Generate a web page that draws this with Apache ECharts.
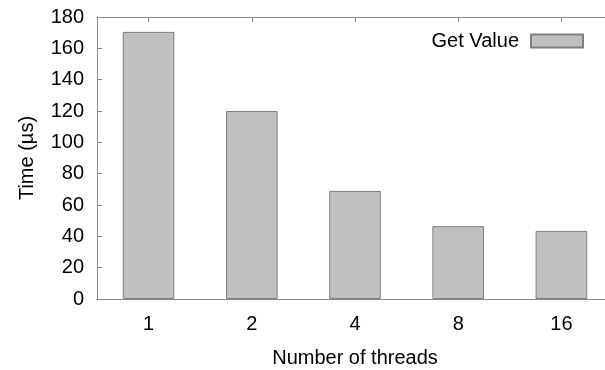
<!DOCTYPE html>
<html>
<head>
<meta charset="utf-8">
<script src="https://cdn.jsdelivr.net/npm/echarts@6/dist/echarts.min.js"></script>
<style>
  html, body { margin: 0; padding: 0; background: #fff; overflow: hidden; }
  #chart { width: 605px; height: 370px; }
</style>
</head>
<body>
<div id="chart"></div>
<script>
// Thread counts on the x axis and measured get latency per count
const threadCounts = ['1', '2', '4', '8', '16'];
const getValueTimes = [170.5, 120, 69, 46.5, 43.5];
const seriesName = 'Get Value';
const yTicks = { min: 0, max: 180, interval: 20 };

const FONT = 'Liberation Sans';
const FONT_SIZE = 20;
const AXIS_GRAY = '#8a8a8a';

const chart = echarts.init(document.getElementById('chart'), null, { renderer: 'canvas' });

chart.setOption({
  animation: false,
  backgroundColor: '#ffffff',
  // plot frame runs past the right edge of the canvas, so its right side stays open
  grid: {
    left: 97, top: 17, width: 516, height: 282,
    outerBoundsMode: 'none',
    containLabel: false,
    show: false
  },
  legend: {
    data: [seriesName],
    right: 16, top: 26,
    align: 'right',
    itemWidth: 52, itemHeight: 13, itemGap: 10,
    icon: 'rect',
    textStyle: { fontFamily: FONT, fontSize: FONT_SIZE, color: '#000', padding: [0, 7, 0, 0] }
  },
  xAxis: [
    {
      type: 'category',
      data: threadCounts,
      position: 'bottom',
      name: 'Number of threads',
      nameLocation: 'middle',
      nameGap: 49,
      nameTextStyle: { fontFamily: FONT, fontSize: FONT_SIZE, color: '#000' },
      axisLine: { show: true, lineStyle: { color: AXIS_GRAY, width: 1 } },
      axisTick: { show: false },
      axisLabel: { fontFamily: FONT, fontSize: FONT_SIZE, color: '#000', margin: 15 },
      splitLine: { show: false }
    },
    {
      // top border with mirrored inward ticks
      type: 'category',
      data: threadCounts,
      position: 'top',
      axisLine: { show: true, lineStyle: { color: AXIS_GRAY, width: 1 } },
      axisTick: { show: true, inside: true, alignWithLabel: true, length: 5, lineStyle: { color: AXIS_GRAY } },
      axisLabel: { show: false },
      splitLine: { show: false }
    }
  ],
  yAxis: {
    type: 'value',
    min: yTicks.min, max: yTicks.max, interval: yTicks.interval,
    name: 'Time (µs)',
    nameLocation: 'middle',
    nameGap: 60,
    nameTextStyle: { fontFamily: FONT, fontSize: FONT_SIZE, color: '#000' },
    axisLine: { show: true, lineStyle: { color: AXIS_GRAY, width: 1 } },
    axisTick: { show: true, inside: true, length: 5, lineStyle: { color: AXIS_GRAY } },
    axisLabel: { fontFamily: FONT, fontSize: FONT_SIZE, color: '#000', margin: 13 },
    splitLine: { show: false }
  },
  // keep the open right side of the frame clean at the canvas edge
  graphic: [{
    type: 'rect',
    z: 100,
    silent: true,
    shape: { x: 598, y: 19, width: 7, height: 278 },
    style: { fill: '#ffffff' }
  }],
  series: [{
    name: seriesName,
    type: 'bar',
    xAxisIndex: 0,
    data: getValueTimes,
    barWidth: '50%',
    itemStyle: { color: '#c0c0c0', borderColor: '#7f7f7f', borderWidth: 1 }
  }]
});
</script>
</body>
</html>
